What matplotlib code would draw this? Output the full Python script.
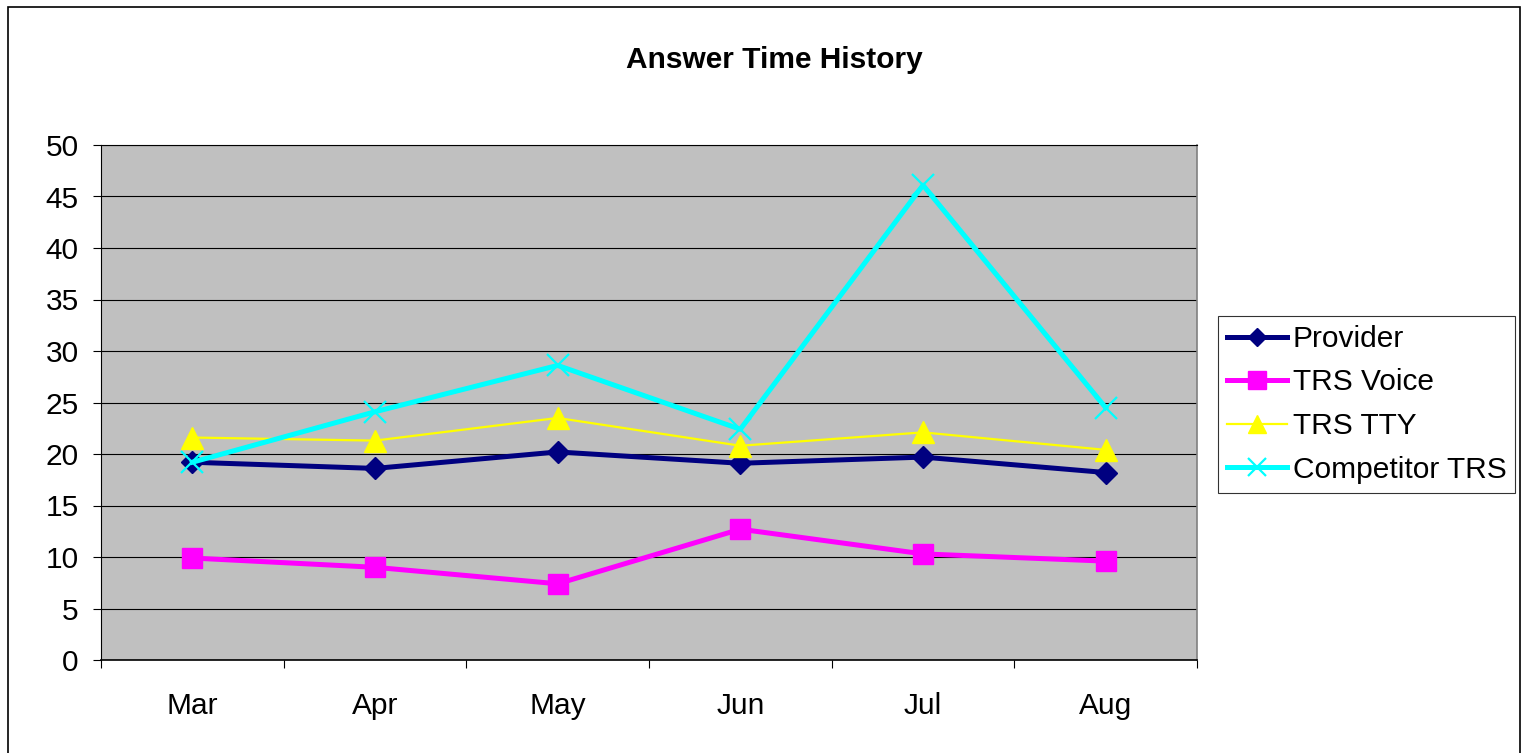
import matplotlib
matplotlib.use("Agg")
import matplotlib.pyplot as plt
from matplotlib.patches import Rectangle

months = ["Mar", "Apr", "May", "Jun", "Jul", "Aug"]
provider = [19.2, 18.6, 20.2, 19.1, 19.7, 18.2]
trs_voice = [9.9, 9.0, 7.4, 12.7, 10.3, 9.6]
trs_tty = [21.6, 21.3, 23.5, 20.8, 22.1, 20.4]
competitor = [19.2, 24.1, 28.6, 22.4, 46.1, 24.5]
y_ticks = [0, 5, 10, 15, 20, 25, 30, 35, 40, 45, 50]

plt.rcParams['font.family'] = ['Liberation Sans', 'DejaVu Sans']
FS = 21.5

W, H = 1522, 753
fig = plt.figure(figsize=(W / 100, H / 100), dpi=100)
ax = fig.add_axes([101 / W, 1 - 660 / H, (1197 - 101) / W, (660 - 145) / H])
ax.set_facecolor('#C0C0C0')

x = list(range(len(months)))
ax.plot(x, provider, color='#000080', lw=3.6, marker='D', ms=11,
        mec='#000080', mfc='#000080', label='Provider', zorder=4)
ax.plot(x, trs_voice, color='#FF00FF', lw=3.6, marker='s', ms=15,
        mec='#FF00FF', mfc='#FF00FF', label='TRS Voice', zorder=4)
ax.plot(x, trs_tty, color='#FFFF00', lw=1.6, marker='^', ms=16,
        mec='#FFFF00', mfc='#FFFF00', label='TRS TTY', zorder=4)
ax.plot(x, competitor, color='#00FFFF', lw=3.6, marker='x', ms=16,
        mew=1.6, mec='#00FFFF', label='Competitor TRS', zorder=5)

ax.set_ylim(0, 50)
ax.set_xlim(-0.5, len(months) - 0.5)
ax.set_yticks(y_ticks)
ax.set_yticklabels([str(v) for v in y_ticks], fontsize=FS)
ax.tick_params(axis='y', direction='out', length=6, width=0.8, pad=10)
ax.grid(axis='y', color='black', lw=0.8)
ax.set_axisbelow(True)

ax.set_xticks([i - 0.5 for i in range(len(months) + 1)])
ax.set_xticklabels([])
ax.set_xticks(x, minor=True)
ax.set_xticklabels(months, minor=True, fontsize=FS)
ax.tick_params(axis='x', which='major', direction='out', length=6, width=0.8)
ax.tick_params(axis='x', which='minor', length=0, pad=23)

ax.spines['left'].set_color('black')
ax.spines['bottom'].set_color('black')
ax.spines['bottom'].set_linewidth(1.2)
ax.spines['top'].set_color('black')
ax.spines['top'].set_linewidth(0.8)
ax.spines['right'].set_color('#808080')
ax.spines['right'].set_linewidth(1.2)

fig.text(774 / W, 1 - 60 / H, 'Answer Time History', ha='center', va='center',
         fontsize=FS, fontweight='bold')

leg = fig.legend(loc='upper left', bbox_to_anchor=(1218 / W, 1 - 316 / H),
                 fontsize=FS, frameon=True, fancybox=False, shadow=False,
                 borderaxespad=0, borderpad=0.3, labelspacing=0.52,
                 handlelength=2.0, handletextpad=0.2, markerscale=0.85)
leg.get_frame().set_edgecolor('black')
leg.get_frame().set_linewidth(0.8)

fig.patches.append(Rectangle((8 / W, -0.05), (1520 - 8) / W, 1 - 7 / H + 0.05,
                             transform=fig.transFigure, fill=False,
                             edgecolor='black', lw=1.2))

fig.savefig('out.png', dpi=100)
